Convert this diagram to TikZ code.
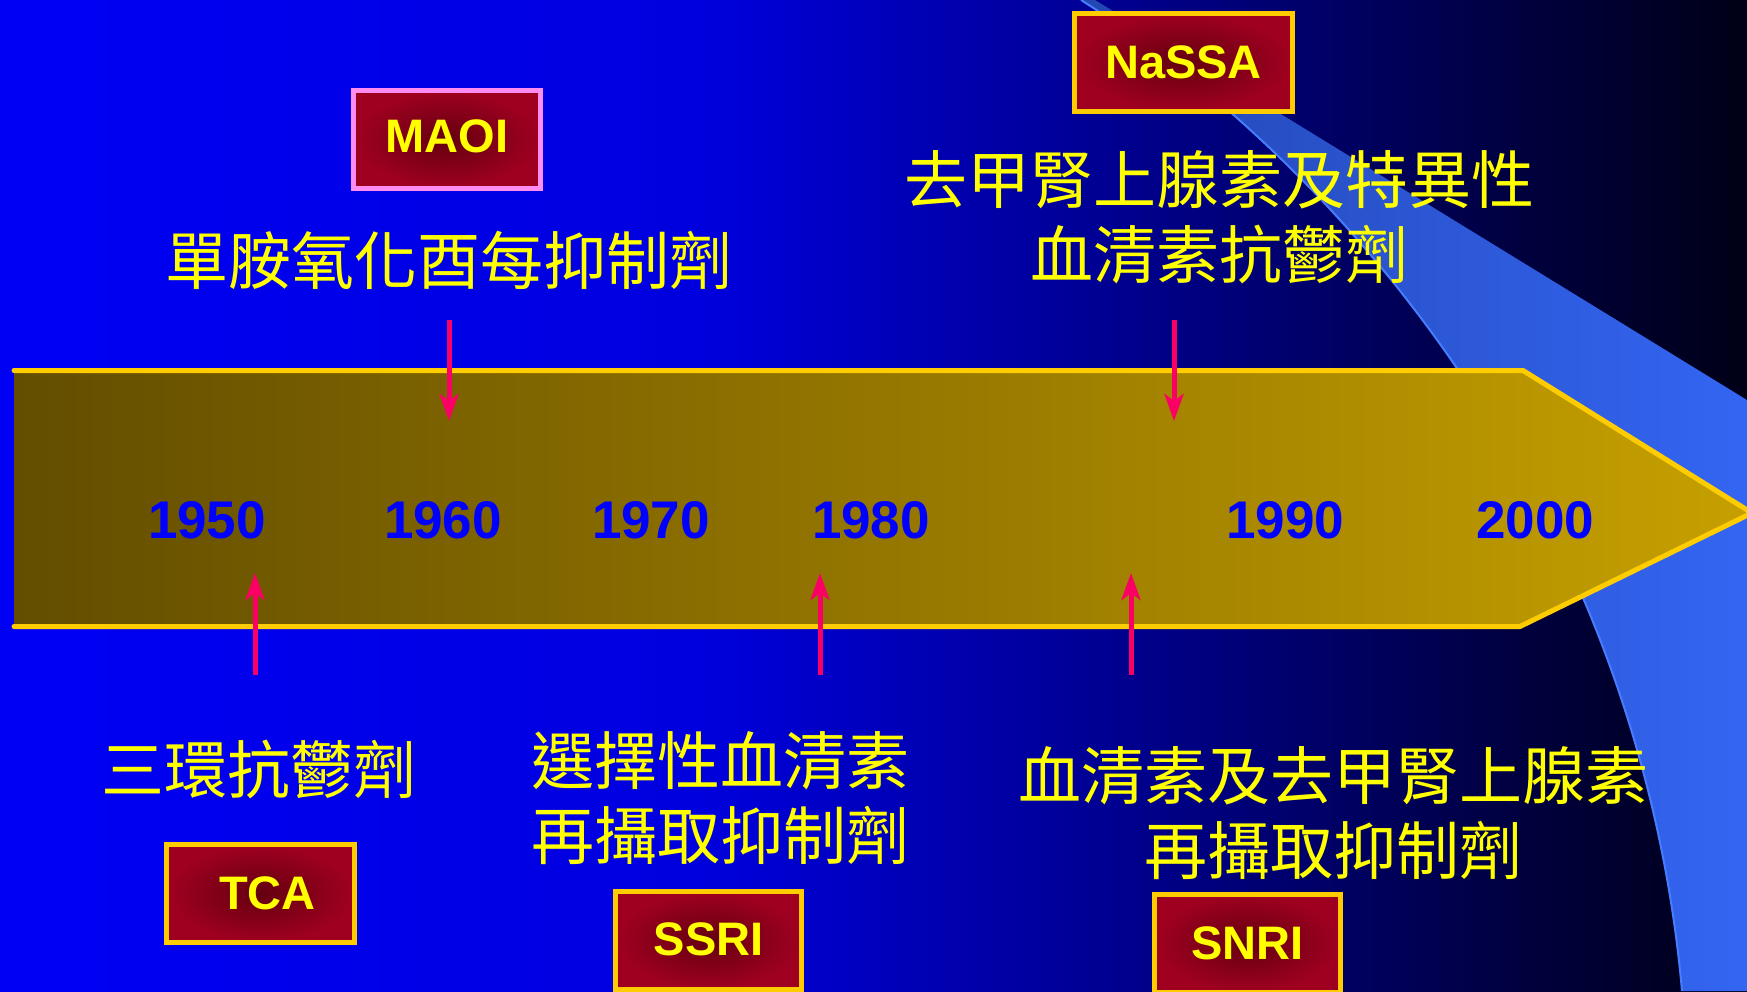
\documentclass[tikz,border=0pt]{standalone}
\usepackage{fontspec}
\setmainfont{Liberation Sans}
\newfontfamily\cjk{Noto Sans CJK TC}
\usetikzlibrary{arrows.meta}
\definecolor{bgA}{RGB}{0,0,245}
\definecolor{bgB}{RGB}{0,0,222}
\definecolor{bgC}{RGB}{0,0,140}
\definecolor{bgD}{RGB}{0,0,70}
\definecolor{bgE}{RGB}{0,0,22}
\definecolor{bandL}{RGB}{35,70,178}
\definecolor{bandR}{RGB}{52,102,244}
\definecolor{bandEdge}{RGB}{70,125,255}
\definecolor{arrL}{RGB}{99,77,0}
\definecolor{arrR}{RGB}{198,160,0}
\definecolor{gold}{RGB}{255,204,0}
\definecolor{yearblue}{RGB}{0,0,255}
\definecolor{pinkarrow}{RGB}{250,0,100}
\definecolor{boxred}{RGB}{160,0,32}
\definecolor{boxdark}{RGB}{100,0,16}
\definecolor{pinkborder}{RGB}{255,140,240}
\definecolor{txtyellow}{RGB}{255,255,0}
\pgfdeclarehorizontalshading{bgshade}{100bp}{color(0bp)=(bgA); color(25bp)=(bgA); color(45bp)=(bgB); color(57.5bp)=(bgC); color(67.5bp)=(bgD); color(75bp)=(bgE); color(100bp)=(bgE)}
\tikzset{
  drugbox/.style={rectangle, draw=gold, line width=5pt, inner color=boxdark, outer color=boxred,
    minimum height=98pt, inner sep=0pt, text=txtyellow, font=\fontsize{47}{50}\selectfont\bfseries},
  yearlbl/.style={text=yearblue, font=\fontsize{53}{56}\selectfont\bfseries, inner sep=0pt},
  cjklbl/.style={text=txtyellow, font=\cjk\fontsize{63}{75}\selectfont, align=center, inner sep=0pt},
  pinkarr/.style={draw=pinkarrow, line width=5pt, -{Stealth[length=27pt,width=19pt,inset=7pt]}}
}
\begin{document}
\begin{tikzpicture}[x=1pt,y=-1pt]
\useasboundingbox (0,0) rectangle (1747,991);
\begin{scope}
\clip (0,0) rectangle (1747,991);
% background
\shade[shading=bgshade] (0,0) rectangle (1747,991);
% light blue swoosh band
\shade[left color=bandL, right color=bandR] (1081,0) .. controls (1350,170) and (1640,520) .. (1682,991)
  -- (1760,991) -- (1760,408) -- (1095,0) -- cycle;
\draw[bandEdge, line width=2pt] (1081,0) .. controls (1350,170) and (1640,520) .. (1682,991);
% timeline arrow
\fill[left color=arrL, right color=arrR] (14,370.5) -- (1523,370.5) -- (1752,513) -- (1520,626.5) -- (14,626.5) -- cycle;
\draw[gold, line width=5pt, line cap=round, line join=round] (14,370.5) -- (1523,370.5) -- (1752,513) -- (1520,626.5) -- (14,626.5);
\end{scope}
% years
\node[yearlbl] (y1950) at (207,520) {1950};
\node[yearlbl] (y1960) at (443,520) {1960};
\node[yearlbl] (y1970) at (651,520) {1970};
\node[yearlbl] (y1980) at (871,520) {1980};
\node[yearlbl] (y1990) at (1285,520) {1990};
\node[yearlbl] (y2000) at (1535,520) {2000};
% pink arrows
\coordinate (maoiS) at (449,320);
\coordinate (maoiE) at (449,421);
\coordinate (nassaS) at (1174,320);
\coordinate (nassaE) at (1174,421);
\coordinate (tcaS) at (255,675);
\coordinate (tcaE) at (255,573);
\coordinate (ssriS) at (820,675);
\coordinate (ssriE) at (820,573);
\coordinate (snriS) at (1131,675);
\coordinate (snriE) at (1131,573);
\draw[pinkarr] (maoiS) -- (maoiE);
\draw[pinkarr] (nassaS) -- (nassaE);
\draw[pinkarr] (tcaS) -- (tcaE);
\draw[pinkarr] (ssriS) -- (ssriE);
\draw[pinkarr] (snriS) -- (snriE);
% boxes
\node[drugbox, draw=pinkborder, minimum width=187pt] (maoi) at (447,139.5) {\raisebox{6pt}{MAOI}};
\node[drugbox, minimum width=218pt] (nassa) at (1183.5,62.3) {NaSSA};
\node[drugbox, minimum width=188pt] (tca) at (260.5,893.5) {\hspace*{14pt}\raisebox{-3pt}{TCA}};
\node[drugbox, minimum width=186pt] (ssri) at (708.5,940.5) {\raisebox{3pt}{SSRI}};
\node[drugbox, minimum width=186pt] (snri) at (1247.5,943) {\raisebox{-12pt}{SNRI}};
% chinese labels
\node[cjklbl] (maoitxt) at (449,260) {單胺氧化酉每抑制劑};
\node[cjklbl] (nassatxt) at (1219,217) {去甲腎上腺素及特異性\\血清素抗鬱劑};
\node[cjklbl] (tcatxt) at (259,769) {三環抗鬱劑};
\node[cjklbl] (ssritxt) at (720,798) {選擇性血清素\\再攝取抑制劑};
\node[cjklbl] (snritxt) at (1333,813) {血清素及去甲腎上腺素\\再攝取抑制劑};
\end{tikzpicture}
\end{document}
